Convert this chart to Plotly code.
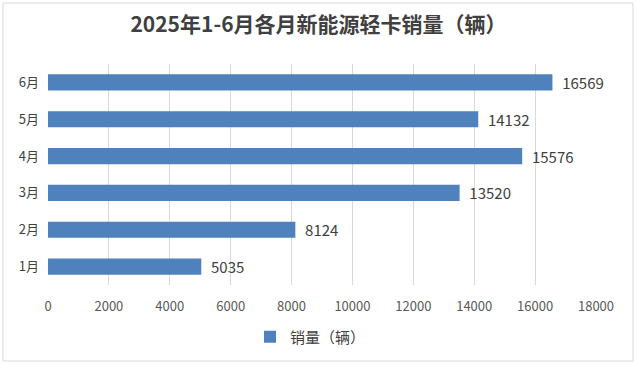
import plotly.graph_objects as go

months = ["1月", "2月", "3月", "4月", "5月", "6月"]
sales = [5035, 8124, 13520, 15576, 14132, 16569]
x_ticks = [0, 2000, 4000, 6000, 8000, 10000, 12000, 14000, 16000, 18000]

font_family = "Noto Sans CJK SC, Microsoft YaHei, sans-serif"

L, R, T, B = 48, 41, 64, 80
W, H = 637, 365
pw, ph = W - L - R, H - T - B

fig = go.Figure()
fig.add_trace(go.Bar(
    y=months, x=sales, orientation="h", name="销量（辆）",
    marker=dict(color="#4f81bd", line=dict(width=0)),
    text=["  " + str(v) for v in sales], textposition="outside",
    constraintext="none",
    textfont=dict(size=15, color="#404040", family=font_family),
    cliponaxis=False,
))

fig.update_layout(
    width=W, height=H,
    margin=dict(l=L, r=R, t=T, b=B),
    paper_bgcolor="white", plot_bgcolor="white",
    bargap=0.56,
    title=dict(text="<b>2025年1-6月各月新能源轻卡销量（辆）</b>",
               x=0.5, xanchor="center", y=1 - 25 / H, yanchor="middle",
               font=dict(size=21, color="#404040", family=font_family)),
    xaxis=dict(range=[0, 18000], tickvals=x_ticks, ticktext=[str(v) for v in x_ticks],
               showgrid=True, gridcolor="#d9d9d9", gridwidth=1,
               zeroline=False, showline=False, automargin=False,
               tickfont=dict(size=13, color="#595959", family=font_family),
               ticks="", ticklabelstandoff=12),
    yaxis=dict(showgrid=False, zeroline=False, showline=False, ticks="", automargin=False,
               tickfont=dict(size=13, color="#404040", family=font_family),
               ticklabelstandoff=8),
    showlegend=True,
    legend=dict(orientation="h", x=(250 - L) / pw, xanchor="left",
                y=-(337 - (T + ph)) / ph, yanchor="middle", itemwidth=30,
                font=dict(size=15, color="#404040", family=font_family)),
    shapes=[dict(type="rect", xref="paper", yref="paper",
                 x0=-(L - 3) / pw, x1=1 + (R - 4) / pw,
                 y0=-(B - 4) / ph, y1=1 + (T - 3) / ph,
                 line=dict(color="#d9d9d9", width=1))],
)

fig.write_html("out.html", config={"displayModeBar": False},
               post_script="document.body.style.margin='0';")
